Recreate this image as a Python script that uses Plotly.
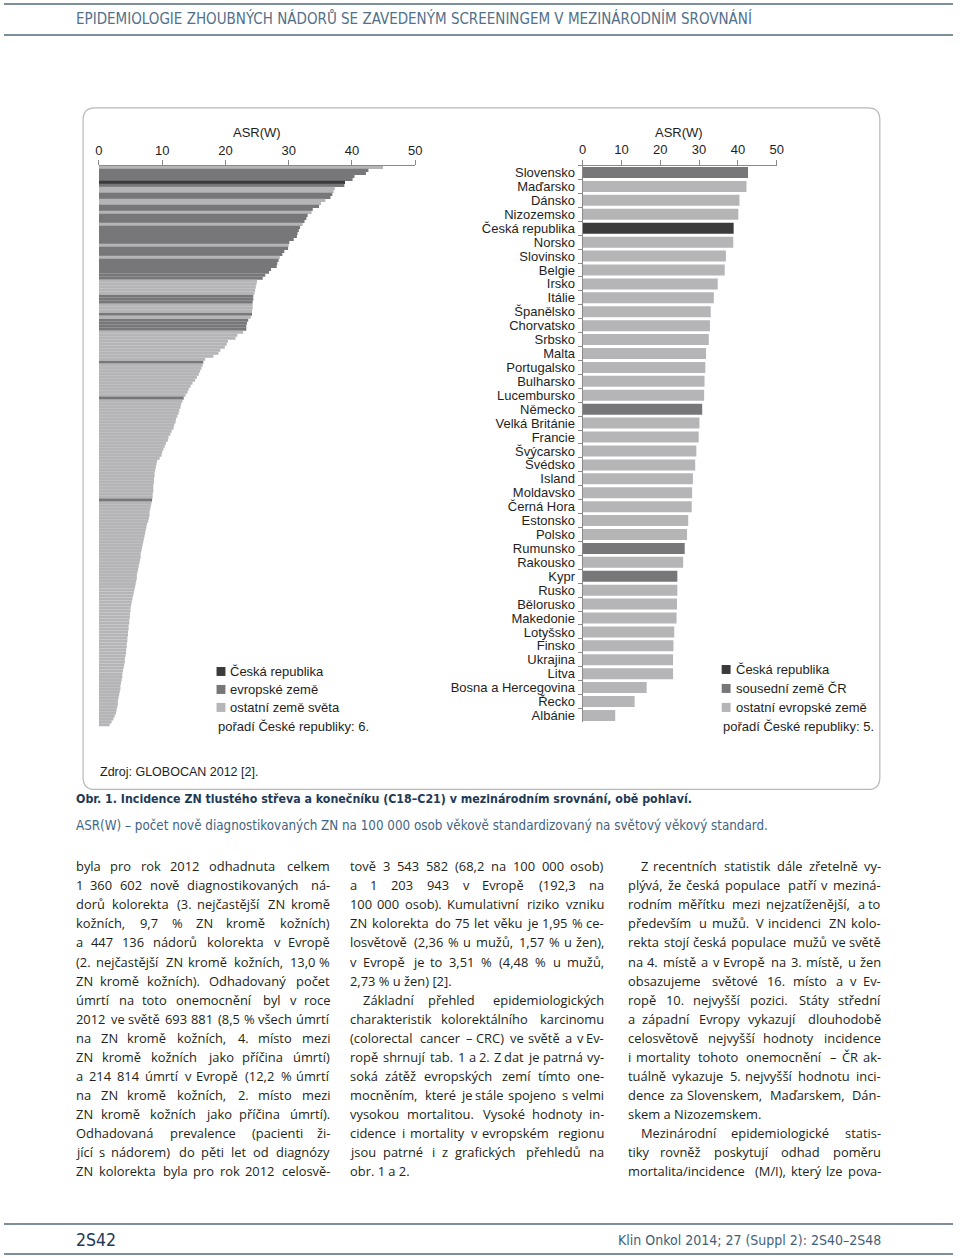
import unicodedata
import plotly.graph_objects as go

W, H = 960, 1258

# ---------------- data ----------------
# Left panel: all countries of the world, ASR(W), sorted descending
world_values = [
    44.9, 42.6, 42.2, 40.4, 40.1, 38.9, 38.8, 37.3, 37.1, 36.9,
    36.6, 35.8, 35.1, 34.8, 33.8, 33.6, 33.0, 32.8, 32.5, 32.2,
    31.8, 31.6, 31.4, 31.3, 30.8, 30.1, 30.0, 29.9, 29.3, 29.0,
    28.6, 28.4, 28.2, 28.1, 27.2, 26.9, 26.3, 25.9, 25.0, 24.9,
    24.8, 24.7, 24.6, 24.4, 24.4, 24.3, 24.3, 24.3, 24.2, 24.2,
    24.0, 23.6, 23.4, 23.3, 23.3,
    22.8, 21.9, 21.6, 20.4, 20.2, 19.9, 19.2, 18.9, 18.1, 16.8,
    16.5,
    16.4, 16.2, 16.0, 15.8, 15.5, 15.2, 14.8, 14.5, 14.2, 14.0, 13.7,
    13.4,
    13.2, 13.0, 12.9, 12.7, 12.6, 12.4, 12.2, 12.1, 11.9, 11.8,
    11.5, 11.3, 11.0, 10.9, 10.6, 10.4, 10.2, 10.0, 9.9, 9.6,
    9.2, 9.1, 9.0, 8.9, 8.8, 8.8, 8.7, 8.7, 8.6, 8.6, 8.6, 8.5, 8.5,
    8.4,
    8.3, 8.2, 8.1, 8.0, 8.0, 7.9, 7.8, 7.6, 7.5, 7.4,
    7.3, 7.2, 7.1, 7.0, 6.9, 6.8, 6.7, 6.6, 6.6, 6.5,
    6.4, 6.3, 6.2, 6.1, 6.0, 6.0, 5.9, 5.8, 5.7, 5.6,
    5.5, 5.4, 5.3, 5.2, 5.1, 5.0, 5.0, 4.9, 4.9, 4.8,
    4.8, 4.7, 4.7, 4.6, 4.6, 4.5, 4.5, 4.4, 4.4, 4.3,
    4.3, 4.2, 4.1, 4.1, 4.0, 3.9, 3.8, 3.7, 3.7, 3.6,
    3.5, 3.4, 3.4, 3.3, 3.2, 3.1, 3.0, 3.0, 2.9, 2.8,
    2.7, 2.5, 2.3, 2.0, 1.7,
]
# C = Czech Republic, E = European country, O = other country
world_groups = list(
    "OEEEECEOOEEOOEEOEEEOEEEEEEOEEEOEEEEEEEOOOOOEEEOOOEOEEEE"
    + "O" * 10 + "E" + "O" * 11 + "E" + "O" * 33 + "E" + "O" * 75
)

# Right panel: European countries
eu_countries = [
    "Slovensko", "Maďarsko", "Dánsko", "Nizozemsko", "Česká republika",
    "Norsko", "Slovinsko", "Belgie", "Irsko", "Itálie", "Španělsko",
    "Chorvatsko", "Srbsko", "Malta", "Portugalsko", "Bulharsko",
    "Lucembursko", "Německo", "Velká Británie", "Francie", "Švýcarsko",
    "Švédsko", "Island", "Moldavsko", "Černá Hora", "Estonsko", "Polsko",
    "Rumunsko", "Rakousko", "Kypr", "Rusko", "Bělorusko", "Makedonie",
    "Lotyšsko", "Finsko", "Ukrajina", "Litva", "Bosna a Hercegovina",
    "Řecko", "Albánie",
]
eu_values = [
    42.6, 42.2, 40.4, 40.1, 38.9, 38.8, 36.9, 36.6, 34.8, 33.8, 33.0,
    32.8, 32.5, 31.8, 31.6, 31.4, 31.3, 30.8, 30.1, 29.9, 29.3, 29.0,
    28.4, 28.2, 28.1, 27.2, 26.9, 26.3, 25.9, 24.4, 24.4, 24.3, 24.2,
    23.6, 23.4, 23.3, 23.3, 16.5, 13.4, 8.4,
]
# C = Czech Republic, N = neighbouring country, O = other European country
eu_groups = list("NOOOCOOOOOOOOOOOONOOOOOOOOONONOOOOOOOOOO")

x_ticks = [0, 10, 20, 30, 40, 50]

COLORS = {"C": "#3b3b3c", "E": "#77777a", "N": "#77777a", "O": "#b5b5b8"}

# ---------------- helpers ----------------
def fx(x):
    return x / W


def fy(y):
    return 1 - y / H


annotations = []
shapes = []


def text(t, x, y, size, color="#1e1e1e", family="Liberation Sans, Arial, sans-serif",
         xanchor="left", yanchor="middle", weight=None):
    font = dict(family=family, size=size, color=color)
    if weight:
        font["weight"] = weight
    annotations.append(dict(
        text=t, x=fx(x), y=fy(y), xref="paper", yref="paper", showarrow=False,
        xanchor=xanchor, yanchor=yanchor, borderpad=0, font=font))


def line(x0, y0, x1, y1, color, width):
    shapes.append(dict(type="line", xref="paper", yref="paper",
                       x0=fx(x0), y0=fy(y0), x1=fx(x1), y1=fy(y1),
                       line=dict(color=color, width=width)))


def rect(x0, y0, x1, y1, color):
    shapes.append(dict(type="rect", xref="paper", yref="paper",
                       x0=fx(x0), y0=fy(y0), x1=fx(x1), y1=fy(y1),
                       line=dict(width=0), fillcolor=color))


def P(x, y):
    return f"{fx(x):.5f},{fy(y):.5f}"


def rounded_box(x0, y0, x1, y1, r, color, width):
    path = (f"M{P(x0 + r, y0)} L{P(x1 - r, y0)} Q{P(x1, y0)} {P(x1, y0 + r)} "
            f"L{P(x1, y1 - r)} Q{P(x1, y1)} {P(x1 - r, y1)} "
            f"L{P(x0 + r, y1)} Q{P(x0, y1)} {P(x0, y1 - r)} "
            f"L{P(x0, y0 + r)} Q{P(x0, y0)} {P(x0 + r, y0)} Z")
    shapes.append(dict(type="path", xref="paper", yref="paper", path=path,
                       line=dict(color=color, width=width), fillcolor="rgba(0,0,0,0)"))


# approximate glyph widths (em) of Open Sans, for justified text
CW = {" ": .26, "a": .556, "b": .613, "c": .476, "d": .613, "e": .561, "f": .339,
      "g": .548, "h": .614, "i": .253, "j": .253, "k": .525, "l": .253, "m": .93,
      "n": .614, "o": .604, "p": .613, "q": .613, "r": .408, "s": .477, "t": .353,
      "u": .614, "v": .501, "w": .778, "x": .524, "y": .502, "z": .478,
      ".": .266, ",": .244, "(": .292, ")": .292, "%": .841, "-": .322, "–": .5,
      "/": .37, ":": .266, "[": .329, "]": .329,
      "A": .633, "B": .648, "C": .631, "D": .729, "E": .556, "F": .516, "G": .728,
      "H": .738, "I": .279, "J": .267, "K": .614, "L": .519, "M": .903, "N": .754,
      "O": .779, "P": .602, "R": .618, "S": .549, "T": .553, "U": .728, "V": .595,
      "Z": .562}
WIDTH_CORR = 1.07


def word_w(word, size):
    tot = 0.0
    for ch in word:
        if ch.isdigit():
            tot += .572
            continue
        base = unicodedata.normalize("NFD", ch)[0]
        tot += CW.get(ch, CW.get(base, .58))
    return tot * size * WIDTH_CORR


BODY_FONT = "Open Sans, sans-serif"
BODY_SIZE = 12.9
BODY_COLOR = "#231f20"


def body_line(t, x0, x1, y, justify, indent):
    x0 = x0 + (13 if indent else 0)
    words = t.split(" ")
    if not justify or len(words) == 1:
        text(t, x0, y, BODY_SIZE, BODY_COLOR, BODY_FONT)
        return
    ws = [word_w(w, BODY_SIZE) for w in words]
    gap = (x1 - x0 - sum(ws)) / (len(words) - 1)
    gap = max(gap, 2.6)
    x = x0
    for i, w in enumerate(words):
        if i == len(words) - 1:
            text(w, x1, y, BODY_SIZE, BODY_COLOR, BODY_FONT, xanchor="right")
        else:
            text(w, x, y, BODY_SIZE, BODY_COLOR, BODY_FONT)
        x += ws[i] + gap


# ---------------- figure ----------------
fig = go.Figure()
fig.add_trace(go.Bar(
    x=world_values, y=list(range(len(world_values))), orientation="h",
    marker=dict(color=[COLORS[g] for g in world_groups], line=dict(width=0)),
    width=1.06, xaxis="x", yaxis="y", hoverinfo="x"))
fig.add_trace(go.Bar(
    x=eu_values, y=eu_countries, orientation="h",
    marker=dict(color=[COLORS[g] for g in eu_groups], line=dict(width=0)),
    width=0.79, xaxis="x2", yaxis="y2", hoverinfo="x+y"))

axis_font = dict(family="Liberation Sans, Arial, sans-serif", size=13, color="#1e1e1e")
AX = "#8a8a8a"
n = len(world_values)

fig.update_layout(
    width=W, height=H, margin=dict(l=0, r=0, t=0, b=0, pad=0),
    paper_bgcolor="white", plot_bgcolor="rgba(0,0,0,0)", showlegend=False,
    xaxis=dict(domain=[fx(96), fx(416)], range=[0, 50], side="top", anchor="y",
               tickvals=x_ticks, ticks="outside", ticklen=5, tickcolor=AX,
               showline=True, linecolor=AX, linewidth=1, showgrid=False,
               zeroline=False, tickfont=axis_font, fixedrange=True),
    yaxis=dict(domain=[fy(727), fy(166)], range=[n - 0.5, -0.5], visible=False,
               fixedrange=True),
    xaxis2=dict(domain=[fx(585.3), fx(781.7)], range=[0, 50], side="top", anchor="y2",
                tickvals=x_ticks, ticks="outside", ticklen=5, tickcolor=AX,
                showline=True, linecolor=AX, linewidth=1, showgrid=False,
                zeroline=False, tickfont=axis_font, fixedrange=True),
    yaxis2=dict(domain=[fy(723), fy(165.7)], autorange="reversed", anchor="x2",
                type="category", showline=True, linecolor=AX, linewidth=1,
                ticks="outside", tickson="boundaries", ticklen=4, tickcolor=AX,
                tickmode="linear", tick0=0, dtick=1,
                tickfont=axis_font, showgrid=False, fixedrange=True,
                ticklabelstandoff=4),
)

# header / footer rules and text
HEAD_FONT = "DejaVu Sans Condensed, DejaVu Sans, sans-serif"
line(0, 4, 960, 4, "#7d8f9b", 2)
line(0, 35, 960, 35, "#7d8f9b", 2)
text("EPIDEMIOLOGIE ZHOUBNÝCH NÁDORŮ SE ZAVEDENÝM SCREENINGEM V MEZINÁRODNÍM SROVNÁNÍ",
     72, 19, 15, "#52708a", HEAD_FONT)
line(0, 1225, 960, 1225, "#7d8f9b", 2)
line(0, 1255, 960, 1255, "#7d8f9b", 2)
text("2S42", 72, 1241, 17.5, "#1f3a56", HEAD_FONT)
text("Klin Onkol 2014; 27 (Suppl 2): 2S40–2S48", 888, 1241, 14, "#3f5f7a", HEAD_FONT,
     xanchor="right")

# chart frame
rounded_box(80, 108, 886, 790, 12, "#b8b8b8", 1.2)

# axis titles
text("ASR(W)", 256, 133, 13, xanchor="center")
text("ASR(W)", 683, 133, 13, xanchor="center")

# left legend
for yy, g, lab in [(672, "C", "Česká republika"), (690, "E", "evropské země"),
                   (708, "O", "ostatní země světa")]:
    rect(215, yy - 4.5, 224, yy + 4.5, COLORS[g])
    text(lab, 228, yy, 13)
text("pořadí České republiky: 6.", 215, 727, 13)

# right legend
for yy, g, lab in [(670, "C", "Česká republika"), (689, "N", "sousední země ČR"),
                   (708, "O", "ostatní evropské země")]:
    rect(726, yy - 4.5, 735, yy + 4.5, COLORS[g])
    text(lab, 739, yy, 13)
text("pořadí České republiky: 5.", 726, 727, 13)

text("Zdroj: GLOBOCAN 2012 [2].", 96, 773, 12.5)

# caption
text("Obr. 1. Incidence ZN tlustého střeva a konečníku (C18–C21) v mezinárodním srovnání, obě pohlaví.",
     72, 800, 12.3, "#1f3a56", HEAD_FONT, weight=700)
text("ASR(W) – počet nově diagnostikovaných ZN na 100 000 osob věkově standardizovaný na světový věkový standard.",
     72, 826, 13.3, "#3f6584", HEAD_FONT)

# body text (three justified columns)
J, L = True, False
col1 = [
    ("byla pro rok 2012 odhadnuta celkem", J, False),
    ("1 360 602 nově diagnostikovaných ná-", J, False),
    ("dorů kolorekta (3. nejčastější ZN kromě", J, False),
    ("kožních, 9,7 % ZN kromě kožních)", J, False),
    ("a 447 136 nádorů kolorekta v Evropě", J, False),
    ("(2. nejčastější ZN kromě kožních, 13,0 %", J, False),
    ("ZN kromě kožních). Odhadovaný počet", J, False),
    ("úmrtí na toto onemocnění byl v roce", J, False),
    ("2012 ve světě 693 881 (8,5 % všech úmrtí", J, False),
    ("na ZN kromě kožních, 4. místo mezi", J, False),
    ("ZN kromě kožních jako příčina úmrtí)", J, False),
    ("a 214 814 úmrtí v Evropě (12,2 % úmrtí", J, False),
    ("na ZN kromě kožních, 2. místo mezi", J, False),
    ("ZN kromě kožních jako příčina úmrtí).", J, False),
    ("Odhadovaná prevalence (pacienti ži-", J, False),
    ("jící s nádorem) do pěti let od diagnózy", J, False),
    ("ZN kolorekta byla pro rok 2012 celosvě-", J, False),
]
col2 = [
    ("tově 3 543 582 (68,2 na 100 000 osob)", J, False),
    ("a 1 203 943 v Evropě (192,3 na", J, False),
    ("100 000 osob). Kumulativní riziko vzniku", J, False),
    ("ZN kolorekta do 75 let věku je 1,95 % ce-", J, False),
    ("losvětově (2,36 % u mužů, 1,57 % u žen),", J, False),
    ("v Evropě je to 3,51 % (4,48 % u mužů,", J, False),
    ("2,73 % u žen) [2].", L, False),
    ("Základní přehled epidemiologických", J, True),
    ("charakteristik kolorektálního karcinomu", J, False),
    ("(colorectal cancer – CRC) ve světě a v Ev-", J, False),
    ("ropě shrnují tab. 1 a 2. Z dat je patrná vy-", J, False),
    ("soká zátěž evropských zemí tímto one-", J, False),
    ("mocněním, které je stále spojeno s velmi", J, False),
    ("vysokou mortalitou. Vysoké hodnoty in-", J, False),
    ("cidence i mortality v evropském regionu", J, False),
    ("jsou patrné i z grafických přehledů na", J, False),
    ("obr. 1 a 2.", L, False),
]
col3 = [
    ("Z recentních statistik dále zřetelně vy-", J, True),
    ("plývá, že česká populace patří v meziná-", J, False),
    ("rodním měřítku mezi nejzatíženější, a to", J, False),
    ("především u mužů. V incidenci ZN kolo-", J, False),
    ("rekta stojí česká populace mužů ve světě", J, False),
    ("na 4. místě a v Evropě na 3. místě, u žen", J, False),
    ("obsazujeme světové 16. místo a v Ev-", J, False),
    ("ropě 10. nejvyšší pozici. Státy střední", J, False),
    ("a západní Evropy vykazují dlouhodobě", J, False),
    ("celosvětově nejvyšší hodnoty incidence", J, False),
    ("i mortality tohoto onemocnění – ČR ak-", J, False),
    ("tuálně vykazuje 5. nejvyšší hodnotu inci-", J, False),
    ("dence za Slovenskem, Maďarskem, Dán-", J, False),
    ("skem a Nizozemskem.", L, False),
    ("Mezinárodní epidemiologické statis-", J, True),
    ("tiky rovněž poskytují odhad poměru", J, False),
    ("mortalita/incidence (M/I), který lze pova-", J, False),
]
for col, (x0, x1) in [(col1, (72, 331)), (col2, (349, 608)), (col3, (630, 888))]:
    for i, (t, just, ind) in enumerate(col):
        body_line(t, x0, x1, 867 + i * 19.06, just, ind)

fig.update_layout(annotations=annotations, shapes=shapes)
fig.write_html(
    "out.html",
    config={"displayModeBar": False, "staticPlot": True},
    post_script="document.body.style.margin='0';document.body.style.overflow='hidden';",
)
